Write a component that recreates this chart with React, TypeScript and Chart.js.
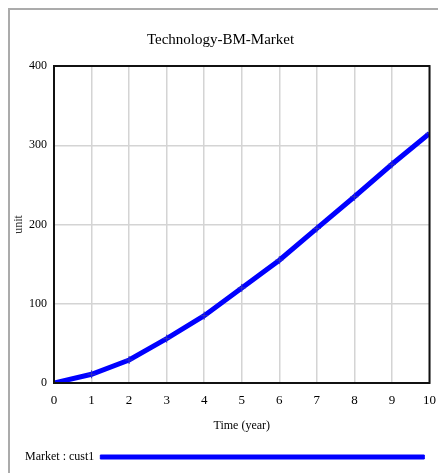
import React, { useEffect, useRef } from "react";
import { Chart, registerables } from "chart.js";

Chart.register(...registerables);

const years = [0, 1, 2, 3, 4, 5, 6, 7, 8, 9, 10];
const market = [0, 11, 29, 56, 85, 120, 155, 195, 235, 276, 315];
const seriesLabel = "Market : cust1";
const chartTitle = "Technology-BM-Market";
const xTitle = "Time (year)";
const yTitle = "unit";

const SERIF = "'Liberation Serif', 'Times New Roman', serif";

const framePlugin = {
  id: "frame",
  afterDatasetsDraw(chart: any) {
    const { ctx, chartArea } = chart;
    ctx.save();
    ctx.strokeStyle = "#111";
    ctx.lineWidth = 2;
    ctx.strokeRect(chartArea.left, chartArea.top, chartArea.right - chartArea.left, chartArea.bottom - chartArea.top);
    ctx.restore();
  },
};

export default function App() {
  const ref = useRef<HTMLCanvasElement>(null);
  useEffect(() => {
    document.documentElement.style.overflow = "hidden";
    const chart = new Chart(ref.current!, {
      type: "line",
      data: {
        datasets: [
          {
            label: seriesLabel,
            data: years.map((x, i) => ({ x, y: market[i] })),
            borderColor: "#0000ff",
            backgroundColor: "#0000ff",
            borderWidth: 5,
            pointStyle: "cross",
            pointRadius: 4,
            pointBorderWidth: 1,
            pointBorderColor: "#3030c0",
            tension: 0,
          },
        ],
      },
      options: {
        animation: false,
        responsive: false,
        devicePixelRatio: 1,
        layout: { padding: { left: 0, right: 15, top: 0, bottom: 0 } },
        scales: {
          x: {
            type: "linear",
            min: 0,
            max: 10,
            ticks: { stepSize: 1, color: "#000", font: { family: SERIF, size: 13 }, padding: 10 },
            grid: { color: "#d4d4d4", lineWidth: 1.5, drawTicks: false },
            border: { display: false },
            title: { display: true, text: xTitle, color: "#000", font: { family: SERIF, size: 12 }, padding: { top: 4, bottom: 3 } },
            afterFit: (s: any) => {
              s.height -= 4;
            },
          },
          y: {
            min: 0,
            max: 400,
            ticks: { stepSize: 100, color: "#000", font: { family: SERIF, size: 12 }, padding: 7 },
            grid: { color: "#d4d4d4", lineWidth: 1.5, drawTicks: false },
            border: { display: false },
            title: { display: true, text: yTitle, color: "#333", font: { family: SERIF, size: 12 }, padding: { top: 2, bottom: 0 } },
            afterFit: (s: any) => {
              s.width = 44;
            },
          },
        },
        plugins: {
          title: {
            display: true,
            text: chartTitle,
            color: "#000",
            font: { family: SERIF, size: 15, weight: "normal" },
            padding: { top: 21.5, bottom: 16.5 },
          },
          legend: {
            position: "bottom",
            align: "end",
            rtl: true,
            labels: {
              color: "#000",
              font: { family: SERIF, size: 12 },
              boxWidth: 324,
              boxHeight: 4,
              padding: 15,
              generateLabels: (c: any) =>
                Chart.defaults.plugins.legend.labels.generateLabels(c).map((l: any) => ({ ...l, lineWidth: 1 })),
            },
          },
          tooltip: { enabled: false },
        },
      },
      plugins: [framePlugin],
    });
    return () => chart.destroy();
  }, []);
  return (
    <div style={{ borderTop: "2px solid #ababab", borderLeft: "2px solid #ababab", width: 436, height: 463 }}>
      <canvas ref={ref} width={436} height={463} style={{ display: "block" }} />
    </div>
  );
}
